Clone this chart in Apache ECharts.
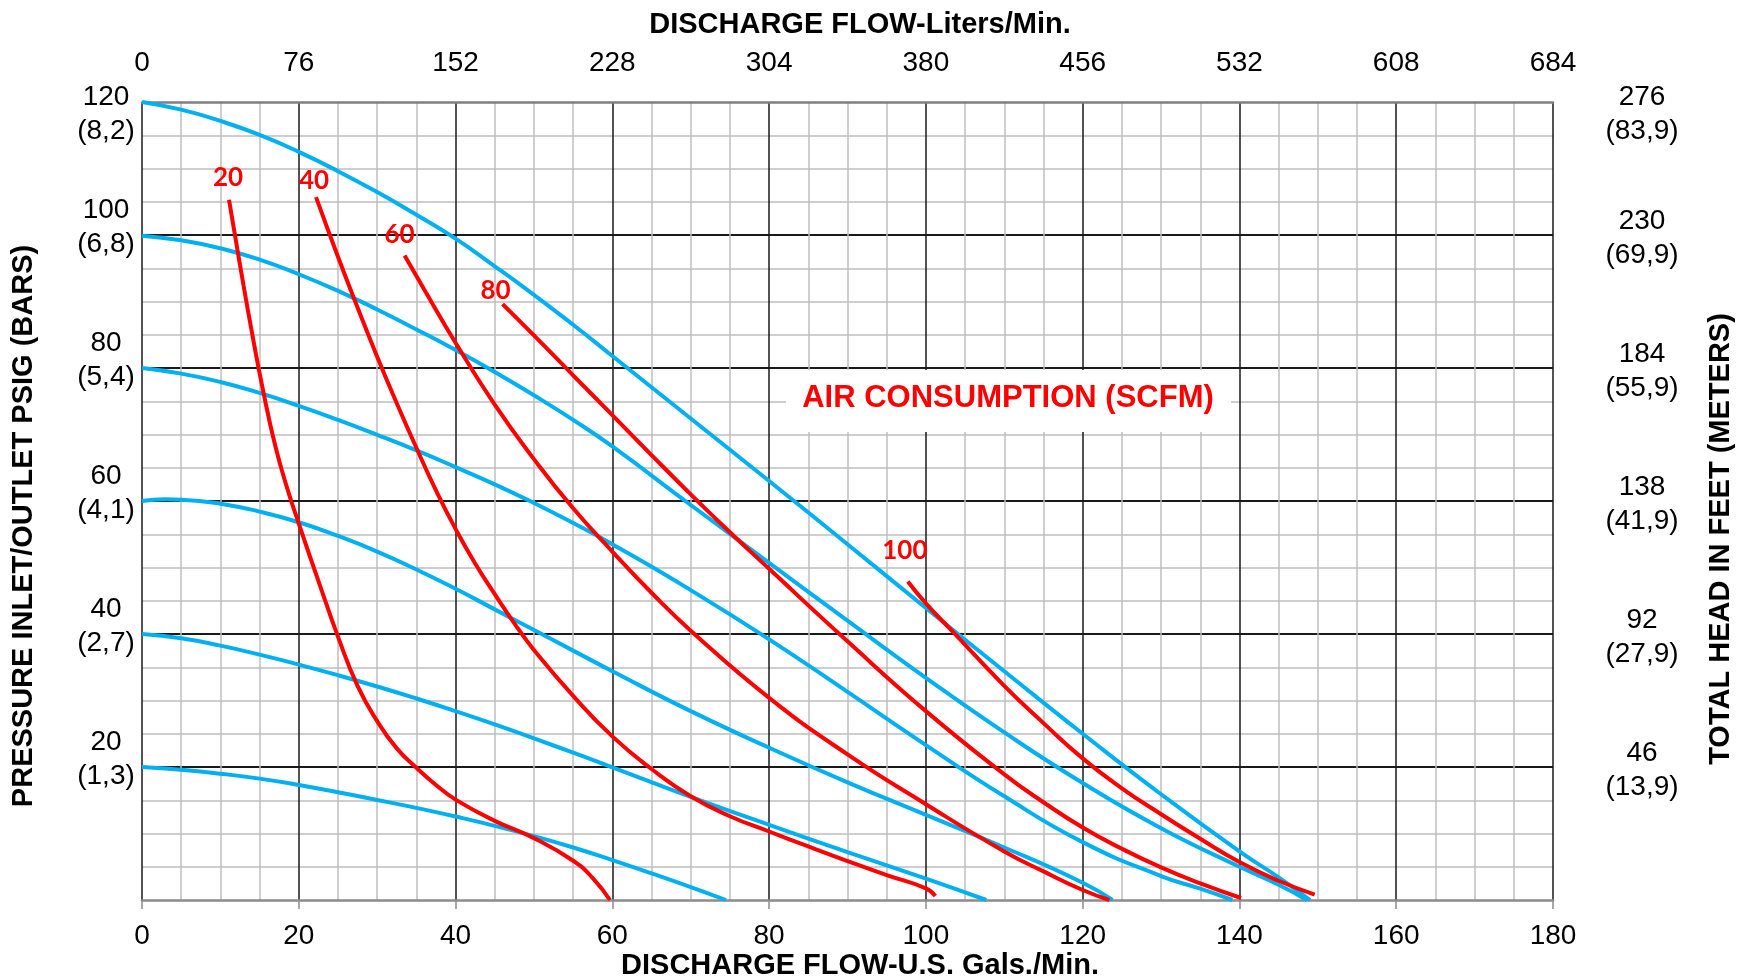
<!DOCTYPE html>
<html><head><meta charset="utf-8">
<script src="https://cdn.jsdelivr.net/npm/echarts@6/dist/echarts.min.js"></script>
<style>html,body{margin:0;padding:0;background:#fff}#c{width:1739px;height:980px}</style>
</head><body><div id="c"></div>
<script>
// ---- tick labels ----
const psiTicks = [0, 20, 40, 60, 80, 100, 120];
const barLabels = ['', '1,3', '2,7', '4,1', '5,4', '6,8', '8,2'];
const feetTicks = [0, 46, 92, 138, 184, 230, 276];
const meterLabels = ['', '13,9', '27,9', '41,9', '55,9', '69,9', '83,9'];
const gpmRange = [0, 180];      // bottom axis, step 20
const litersRange = [0, 684];   // top axis, step 76

// ---- pump curves at inlet air pressure (GPM, PSIG) ----
const pump120 = [[0,120],[5,118.85],[10,117.15],[15,115.05],[20,112.5],[25,109.6],[30,106.45],[35,103.05],[40,99.45],[45,95.3],[50,91.0],[55,86.5],[60,81.8],[70,72.4],[80,63.0],[90,53.5],[100,43.9],[110,34.4],[120,25.0],[130,15.9],[140,7.3],[145,3.4],[149,0]];
const pump100 = [[0,99.9],[5,99.2],[10,98.0],[15,96.3],[20,94.1],[25,91.6],[30,88.8],[35,85.8],[40,82.7],[45,79.4],[50,75.9],[55,72.2],[60,68.2],[70,59.4],[80,50.7],[90,42.0],[100,33.4],[110,25.2],[120,17.6],[130,10.8],[140,5.0],[145,2.3],[148.6,0]];
const pump80 = [[0,80],[5,79.15],[10,77.9],[15,76.25],[20,74.3],[25,72.2],[30,69.95],[35,67.6],[40,65.1],[45,62.5],[50,59.7],[55,56.7],[60,53.5],[70,46.6],[80,39.2],[90,31.3],[100,23.3],[110,15.6],[120,8.7],[130,3.6],[135,1.7],[139.1,0]];
const pump60 = [[0,60],[3,60.25],[5,60.2],[10,59.6],[15,58.4],[20,56.8],[25,54.75],[30,52.4],[35,49.7],[40,46.8],[45,43.7],[50,40.6],[55,37.5],[60,34.4],[70,28.4],[80,22.9],[90,17.7],[100,12.8],[110,7.9],[120,2.6],[123.8,0]];
const pump40 = [[0,40],[5,39.35],[10,38.25],[15,36.9],[20,35.4],[25,33.8],[30,32.1],[35,30.3],[40,28.4],[45,26.4],[50,24.3],[55,22.15],[60,19.95],[70,15.5],[80,11.3],[90,7.2],[100,3.2],[107.7,0]];
const pump20 = [[0,20],[5,19.6],[10,19.0],[15,18.25],[20,17.3],[25,16.2],[30,15.05],[35,13.85],[40,12.55],[45,11.15],[50,9.6],[55,7.9],[60,6.0],[65,4.0],[70,1.95],[74.5,0]];

// ---- air consumption curves (SCFM) ----
const air20 = [[11.1,105.3],[12.5,95.5],[14,85.5],[15.5,76.3],[17,68.3],[18.5,62.0],[20,56.6],[22.5,48.0],[25,39.6],[27.5,32.2],[30,26.9],[32.5,22.8],[35,19.9],[37.5,17.3],[40,15.1],[45,11.9],[50,9.3],[55,5.9],[57.5,3.3],[59.7,0]];
const air40 = [[22.2,105.7],[25,96.74],[27.5,89.1],[30,81.7],[32.5,74.7],[35,68.0],[37.5,61.6],[40,55.8],[42.5,50.6],[45,46.0],[47.5,41.6],[50,37.6],[55,30.7],[60,24.6],[65,19.7],[70,15.6],[75,12.6],[80,10.3],[85,8.05],[90,5.85],[95,3.75],[100,1.75],[101.2,0.6]];
const air60 = [[33.5,96.9],[36,91.8],[40,83.8],[45,74.5],[50,66.3],[55,58.9],[60,52.4],[65,46.2],[70,40.5],[80,30.4],[90,21.9],[100,14.4],[110,7.3],[115,4.3],[120,1.5],[123.4,0]];
const air80 = [[46,89.6],[50,84.9],[55,78.9],[60,72.9],[65,66.9],[70,61.0],[75,55.3],[80,49.8],[90,38.9],[100,28.4],[110,18.9],[115,14.7],[120,10.9],[125,7.7],[130,4.9],[135,2.5],[140.2,0.3]];
const air100 = [[97.7,47.9],[100,44.6],[103.3,40.5],[110,32.2],[115,26.6],[120,21.3],[125,16.8],[130,12.9],[135,9.2],[140,5.7],[145,2.9],[149.6,0.8]];

const airNames = ['20', '40', '60', '80', '100'];
const airLabelOffsets = [[-1,-22],[-2,-16],[-5,-21],[-7,-14],[-3,-31]];

const FONT = '"Liberation Sans", Arial, sans-serif';
const BLUE = '#00B0F0', RED = '#FF0000';

function pumpSeries(data) {
  return { type: 'line', data: data, smooth: 0.5, symbol: 'none', clip: true,
    lineStyle: { color: BLUE, width: 4 }, z: 3 };
}
function airSeries(data, idx) {
  const d = data.map((p, i) => i === 0 ? {
    value: p,
    label: { show: true, position: 'inside', formatter: airNames[idx], offset: airLabelOffsets[idx],
      color: RED, fontSize: 26, fontWeight: 'bold', fontFamily: 'Lato, "Open Sans", sans-serif' }
  } : p);
  return { type: 'line', data: d, smooth: 0.5, showSymbol: true, symbol: 'circle', symbolSize: 0,
    clip: true, lineStyle: { color: RED, width: 4 }, itemStyle: { color: RED }, z: 4 };
}

const chart = echarts.init(document.getElementById('c'), null, { renderer: 'canvas' });
chart.setOption({
  animation: false,
  backgroundColor: '#fff',
  grid: { left: 142, right: 186, top: 102, bottom: 80 },
  xAxis: [
    { type: 'value', position: 'bottom', min: gpmRange[0], max: gpmRange[1], interval: 20,
      axisLine: { show: true, onZero: false, lineStyle: { color: '#8c8c8c', width: 2.5 } },
      axisTick: { show: true, length: 9, lineStyle: { color: '#8c8c8c', width: 1.5 } },
      minorTick: { show: false, splitNumber: 4 },
      splitLine: { show: true, lineStyle: { color: '#1a1a1a', width: 1.5 } },
      minorSplitLine: { show: true, lineStyle: { color: '#bfbfbf', width: 1.5 } },
      axisLabel: { fontSize: 28, fontFamily: FONT, color: '#000', margin: 36, verticalAlign: 'middle' } },
    { type: 'value', position: 'top', min: litersRange[0], max: litersRange[1], interval: 76,
      axisLine: { show: true, onZero: false, lineStyle: { color: '#7f7f7f', width: 2.5 } },
      axisTick: { show: false }, splitLine: { show: false },
      axisLabel: { fontSize: 28, fontFamily: FONT, color: '#000', margin: 39, verticalAlign: 'middle' } }
  ],
  yAxis: [
    { type: 'value', position: 'left', min: psiTicks[0], max: psiTicks[psiTicks.length - 1], interval: 20,
      axisLine: { show: false }, axisTick: { show: false },
      minorTick: { show: false, splitNumber: 4 },
      splitLine: { show: true, showMinLine: false, showMaxLine: false, lineStyle: { color: '#1a1a1a', width: 2 } },
      minorSplitLine: { show: true, lineStyle: { color: '#bfbfbf', width: 1.5 } },
      axisLabel: { fontSize: 28, fontFamily: FONT, color: '#000', margin: 36, align: 'center', lineHeight: 34,
        formatter: function (v) {
          const i = psiTicks.indexOf(v);
          if (i <= 0) return '';
          const t = v + '\n(' + barLabels[i] + ')';
          return i === psiTicks.length - 1 ? '{a| }\n' + t : t + '\n{b| }';
        },
        rich: { a: { lineHeight: 24, fontSize: 1 }, b: { lineHeight: 16, fontSize: 1 } } } },
    { type: 'value', position: 'right', min: feetTicks[0], max: feetTicks[feetTicks.length - 1], interval: 46,
      axisLine: { show: false }, axisTick: { show: false }, splitLine: { show: false },
      axisLabel: { fontSize: 28, fontFamily: FONT, color: '#000', margin: 89, align: 'center', lineHeight: 34,
        formatter: function (v) {
          const i = feetTicks.indexOf(v);
          if (i <= 0) return '';
          const t = v + '\n(' + meterLabels[i] + ')';
          return i === feetTicks.length - 1 ? '{a| }\n' + t : '{b| }\n' + t;
        },
        rich: { a: { lineHeight: 25, fontSize: 1 }, b: { lineHeight: 6, fontSize: 1 } } } }
  ],
  graphic: [
    { type: 'rect', shape: { x: 786, y: 370, width: 445, height: 62 }, style: { fill: '#fff' }, z: 10 },
    { type: 'text', x: 1008, y: 398, z: 11, style: { text: 'AIR CONSUMPTION (SCFM)', fill: RED,
      font: 'bold 31px ' + FONT, align: 'center', verticalAlign: 'middle' } },
    { type: 'text', x: 860, y: 25, style: { text: 'DISCHARGE FLOW-Liters/Min.', fill: '#000',
      font: 'bold 29px ' + FONT, align: 'center', verticalAlign: 'middle' } },
    { type: 'text', x: 860, y: 966, style: { text: 'DISCHARGE FLOW-U.S. Gals./Min.', fill: '#000',
      font: 'bold 29px ' + FONT, align: 'center', verticalAlign: 'middle' } },
    { type: 'text', x: 24, y: 526, rotation: Math.PI / 2, style: { text: 'PRESSURE INLET/OUTLET PSIG (BARS)', fill: '#000',
      font: 'bold 29px ' + FONT, align: 'center', verticalAlign: 'middle' } },
    { type: 'text', x: 1721, y: 539, rotation: Math.PI / 2, style: { text: 'TOTAL HEAD IN FEET (METERS)', fill: '#000',
      font: 'bold 29px ' + FONT, align: 'center', verticalAlign: 'middle' } }
  ],
  series: [
    pumpSeries(pump120), pumpSeries(pump100), pumpSeries(pump80),
    pumpSeries(pump60), pumpSeries(pump40), pumpSeries(pump20),
    airSeries(air20, 0), airSeries(air40, 1), airSeries(air60, 2),
    airSeries(air80, 3), airSeries(air100, 4)
  ]
});
</script></body></html>
